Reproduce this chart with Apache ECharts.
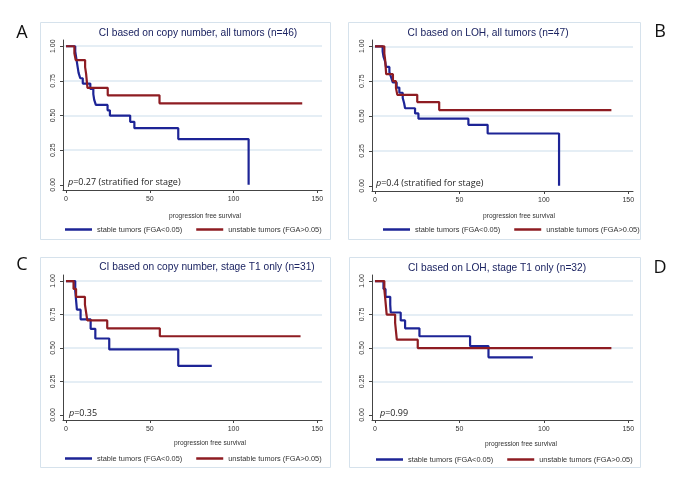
<!DOCTYPE html>
<html>
<head>
<meta charset="utf-8">
<script src="https://cdn.jsdelivr.net/npm/echarts@6/dist/echarts.min.js"></script>
<style>
  html, body { margin: 0; padding: 0; background: #fff; }
  #chart { width: 685px; height: 484px; }
</style>
</head>
<body>
<div id="chart"></div>
<script>
  // axis ticks
  var xTicks = [0, 50, 100, 150];
  var yTicks = [0, 0.25, 0.5, 0.75, 1];
  var seriesNames = ['stable tumors (FGA<0.05)', 'unstable tumors (FGA>0.05)'];
  var panelLetters = ['A', 'B', 'C', 'D'];
  var panelTitles = [
    'CI based on copy number, all tumors (n=46)',
    'CI based on LOH, all tumors (n=47)',
    'CI based on copy number, stage T1 only (n=31)',
    'CI based on LOH, stage T1 only (n=32)'
  ];
  var pValues = ['0.27 (stratified for stage)', '0.4 (stratified for stage)', '0.35', '0.99'];
  var xTitle = 'progression free survival';

  // Kaplan-Meier steps, panel A
  var timeStableA = [0, 5.5, 6, 6.5, 7, 7.5, 8.5, 10, 14.5, 16.3, 16.8, 17.8, 24.8, 26.2, 38.3, 40.8, 67, 109];
  var survStableA = [1, 0.962, 0.923, 0.885, 0.846, 0.808, 0.769, 0.731, 0.692, 0.654, 0.615, 0.577, 0.538, 0.5, 0.455, 0.409, 0.33, 0];
  var timeUnstableA = [0, 5, 5.8, 11.4, 12, 12.4, 12.8, 24.9, 55.8, 141];
  var survUnstableA = [1, 0.95, 0.9, 0.85, 0.8, 0.75, 0.7, 0.646, 0.588, 0.588];
  // panel B
  var timeStableB = [0, 4.5, 5, 6, 6.5, 8.5, 9.5, 10.5, 12.8, 14.4, 16.4, 17.2, 17.8, 23.7, 25.7, 55.3, 66.7, 109];
  var survStableB = [1, 0.963, 0.926, 0.889, 0.852, 0.815, 0.778, 0.741, 0.704, 0.667, 0.63, 0.593, 0.556, 0.519, 0.481, 0.437, 0.375, 0];
  var timeUnstableB = [0, 5.5, 6, 6.3, 6.6, 10.6, 12.4, 13.2, 25, 38, 140];
  var survUnstableB = [1, 0.95, 0.9, 0.85, 0.8, 0.75, 0.7, 0.652, 0.6, 0.543, 0.543];
  // panel C
  var timeStableC = [0, 5.5, 6, 6.5, 8.7, 14.7, 17.5, 25.8, 67, 87];
  var survStableC = [1, 0.929, 0.857, 0.786, 0.714, 0.643, 0.571, 0.49, 0.367, 0.367];
  var timeUnstableC = [0, 4.5, 6, 11.3, 12, 12.7, 24.6, 56, 140];
  var survUnstableC = [1, 0.941, 0.882, 0.824, 0.765, 0.706, 0.647, 0.588, 0.588];
  // panel D
  var timeStableD = [0, 5, 6.2, 9, 9.3, 15.2, 17.8, 26.3, 56.3, 67.2, 93.5];
  var survStableD = [1, 0.941, 0.882, 0.824, 0.765, 0.706, 0.647, 0.588, 0.515, 0.431, 0.431];
  var timeUnstableD = [0, 5.5, 6, 6.9, 11.9, 12.9, 25.3, 140];
  var survUnstableD = [1, 0.9375, 0.875, 0.75, 0.6875, 0.5625, 0.5, 0.5];

  var stableTimes = [timeStableA, timeStableB, timeStableC, timeStableD];
  var stableSurv = [survStableA, survStableB, survStableC, survStableD];
  var unstableTimes = [timeUnstableA, timeUnstableB, timeUnstableC, timeUnstableD];
  var unstableSurv = [survUnstableA, survUnstableB, survUnstableC, survUnstableD];

  var blue = '#1d2496';
  var red = '#8e1c22';
  var axisColor = '#444';
  var textColor = '#333';
  var font = 'Liberation Sans';

  // layout of the four panels
  var grids = [
    {left: 63, top: 40, width: 259, height: 150},
    {left: 372, top: 40, width: 261, height: 151},
    {left: 63, top: 275, width: 259, height: 145},
    {left: 372, top: 275, width: 261, height: 145}
  ];
  var frames = [[40, 22, 290, 217], [348, 22, 292, 217], [40, 257, 290, 210], [349, 257, 291, 210]];
  var letterPos = [[22, 33], [660, 32], [22, 265], [660, 268]];
  var titlePos = [[198, 33], [488, 33], [207, 267], [497, 268]];
  var xTitlePos = [[205, 216], [519, 216], [210, 443], [521, 444]];
  var pPos = [[68, 182], [376, 183], [69, 413], [380, 413]];
  var legendPos = [[65, 226], [383, 226], [65, 455], [376, 456]];

  function toPairs(t, s) {
    return t.map(function (v, i) { return [v, s[i]]; });
  }

  var chart = echarts.init(document.getElementById('chart'), null, {renderer: 'canvas'});

  var xAxes = [], yAxes = [], series = [], legends = [], graphics = [];
  grids.forEach(function (g, i) {
    xAxes.push({
      gridIndex: i, type: 'value', min: -1.8, max: 152.8,
      axisLine: {onZero: false, lineStyle: {color: axisColor, width: 1}},
      axisTick: {customValues: xTicks, length: 3, lineStyle: {color: axisColor}},
      axisLabel: {customValues: xTicks, fontSize: 7, color: textColor, margin: 6, fontFamily: font},
      splitLine: {show: false}
    });
    yAxes.push({
      gridIndex: i, type: 'value', min: -0.037, max: 1.045,
      axisLine: {show: true, onZero: false, lineStyle: {color: axisColor, width: 1}},
      axisTick: {show: true, customValues: yTicks, length: 3, lineStyle: {color: axisColor}},
      axisLabel: {
        customValues: yTicks, rotate: 90, fontSize: 7, color: textColor, margin: 6, fontFamily: font,
        formatter: function (v) { return v.toFixed(2); }
      },
      splitLine: {show: true, lineStyle: {color: ['rgba(0,0,0,0)', '#dce8f2', '#dce8f2', '#dce8f2', '#dce8f2'], width: 1.5}}
    });
    series.push({
      name: seriesNames[0], type: 'line', xAxisIndex: i, yAxisIndex: i, step: 'end',
      symbol: 'none', itemStyle: {color: blue}, lineStyle: {color: blue, width: 2.2},
      data: toPairs(stableTimes[i], stableSurv[i])
    });
    series.push({
      name: seriesNames[1], type: 'line', xAxisIndex: i, yAxisIndex: i, step: 'end',
      symbol: 'none', itemStyle: {color: red}, lineStyle: {color: red, width: 2.2},
      data: toPairs(unstableTimes[i], unstableSurv[i])
    });
    legends.push({
      left: legendPos[i][0], top: legendPos[i][1], padding: 0,
      data: seriesNames, icon: 'rect', itemWidth: 27, itemHeight: 2.5, itemGap: 14,
      selectedMode: false,
      textStyle: {fontSize: 7.4, color: textColor, fontFamily: font}
    });
    graphics.push({
      type: 'rect', shape: {x: frames[i][0] + 0.5, y: frames[i][1] + 0.5, width: frames[i][2], height: frames[i][3]},
      style: {fill: null, stroke: '#d6e2ec', lineWidth: 1}, z: -1
    });
    graphics.push({
      type: 'text', x: letterPos[i][0], y: letterPos[i][1],
      style: {text: panelLetters[i], fontSize: 18, fontFamily: 'Open Sans', fill: '#111', textAlign: 'center', textVerticalAlign: 'middle'}
    });
    graphics.push({
      type: 'text', x: titlePos[i][0], y: titlePos[i][1],
      style: {text: panelTitles[i], fontSize: 10.2, fontFamily: font, fill: '#1c2462', textAlign: 'center', textVerticalAlign: 'middle'}
    });
    graphics.push({
      type: 'text', x: xTitlePos[i][0], y: xTitlePos[i][1],
      style: {text: xTitle, fontSize: 6.6, fontFamily: font, fill: textColor, textAlign: 'center', textVerticalAlign: 'middle'}
    });
    graphics.push({
      type: 'text', x: pPos[i][0], y: pPos[i][1],
      style: {
        text: '{i|p}=' + pValues[i], fontSize: 9, fontFamily: 'Open Sans', fill: '#222',
        textAlign: 'left', textVerticalAlign: 'middle',
        rich: {i: {fontStyle: 'italic', fontSize: 9, fontFamily: 'Open Sans', fill: '#222'}}
      }
    });
  });

  chart.setOption({
    animation: false,
    backgroundColor: '#fff',
    grid: grids,
    xAxis: xAxes,
    yAxis: yAxes,
    legend: legends,
    series: series,
    graphic: graphics
  });
</script>
</body>
</html>
